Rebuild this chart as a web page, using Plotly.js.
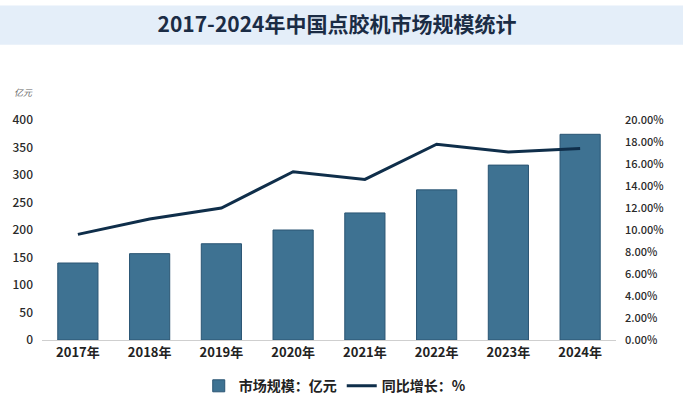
<!DOCTYPE html>
<html>
<head>
<meta charset="utf-8">
<script src="https://cdn.plot.ly/plotly-3.0.1.min.js"></script>
<style>
  html, body { margin: 0; padding: 0; background: #ffffff; }
  #chart { width: 692px; height: 414px; }
</style>
</head>
<body>
<div id="chart"></div>
<script>
// values
var years = ["2017年", "2018年", "2019年", "2020年", "2021年", "2022年", "2023年", "2024年"];
var marketSize = [140, 157, 175, 200, 231, 273, 318, 374];          // 亿元
var growthRate = [9.6, 11.0, 12.0, 15.3, 14.6, 17.8, 17.1, 17.4];   // %

var leftTicks = [0, 50, 100, 150, 200, 250, 300, 350, 400];
var rightTicks = [0, 2, 4, 6, 8, 10, 12, 14, 16, 18, 20];

var fontFamily = "'Noto Sans CJK SC', 'Noto Sans', sans-serif";

var barTrace =
{
    x: years,
    y: marketSize,
    type: "bar",
    name: "市场规模：亿元",
    marker: { color: "#3e7292", line: { color: "#2a5573", width: 1 } },
    hoverinfo: "x+y"
};

var lineTrace =
{
    x: years,
    y: growthRate,
    type: "scatter",
    mode: "lines",
    name: "同比增长：%",
    yaxis: "y2",
    line: { color: "#0f2e4a", width: 3 },
    hoverinfo: "x+y"
};

var layout =
{
    width: 692,
    height: 414,
    margin: { l: 42, r: 76, t: 120, b: 69 },
    paper_bgcolor: "#ffffff",
    plot_bgcolor: "rgba(0,0,0,0)",
    font: { family: fontFamily, size: 11, color: "#333333" },
    showlegend: true,
    bargap: 0.44,
    title:
    {
        text: "<b>2017-2024年中国点胶机市场规模统计</b>",
        font: { family: fontFamily, size: 21, color: "#1b2c45" },
        x: 0.487, xanchor: "center",
        y: 0.94, yanchor: "middle"
    },
    xaxis:
    {
        type: "category",
        showgrid: false,
        showline: true,
        linecolor: "#cfcfcf",
        linewidth: 1,
        ticks: "",
        tickfont: { family: fontFamily, size: 13, color: "#222222", weight: "bold" },
        fixedrange: true
    },
    yaxis:
    {
        range: [0, 400],
        tickvals: leftTicks,
        ticktext: leftTicks.map(String),
        showgrid: false,
        zeroline: false,
        showline: false,
        ticks: "",
        ticklabelstandoff: 8,
        tickfont: { family: fontFamily, size: 12, color: "#2a2a2a", weight: 500 },
        fixedrange: true
    },
    yaxis2:
    {
        overlaying: "y",
        side: "right",
        range: [0, 20],
        tickvals: rightTicks,
        ticktext: rightTicks.map(v => v.toFixed(2) + "%"),
        showgrid: false,
        zeroline: false,
        showline: false,
        ticks: "",
        ticklabelstandoff: 8,
        tickfont: { family: fontFamily, size: 11, color: "#2a2a2a", weight: 500 },
        fixedrange: true
    },
    legend:
    {
        orientation: "h",
        x: 0.51, xanchor: "center",
        y: -0.21, yanchor: "middle",
        font: { family: fontFamily, size: 14, color: "#222222", weight: "bold" },
        itemwidth: 30,
        traceorder: "normal"
    },
    shapes:
    [
        {
            type: "rect", xref: "paper", yref: "paper", layer: "below",
            x0: -42 / 574, x1: 641 / 574,
            y0: 1 + 77 / 225, y1: 1 + 117 / 225,
            fillcolor: "#e4eef9", line: { width: 0 }
        }
    ],
    annotations:
    [
        {
            text: "<i>亿元</i>",
            xref: "paper", yref: "paper",
            x: -30 / 574, y: 1 + 28 / 225,
            xanchor: "left", yanchor: "middle",
            showarrow: false,
            font: { family: fontFamily, size: 9, color: "#666666" }
        }
    ]
};

var config = { displayModeBar: false, responsive: false };

Plotly.newPlot("chart", [barTrace, lineTrace], layout, config);
</script>
</body>
</html>
